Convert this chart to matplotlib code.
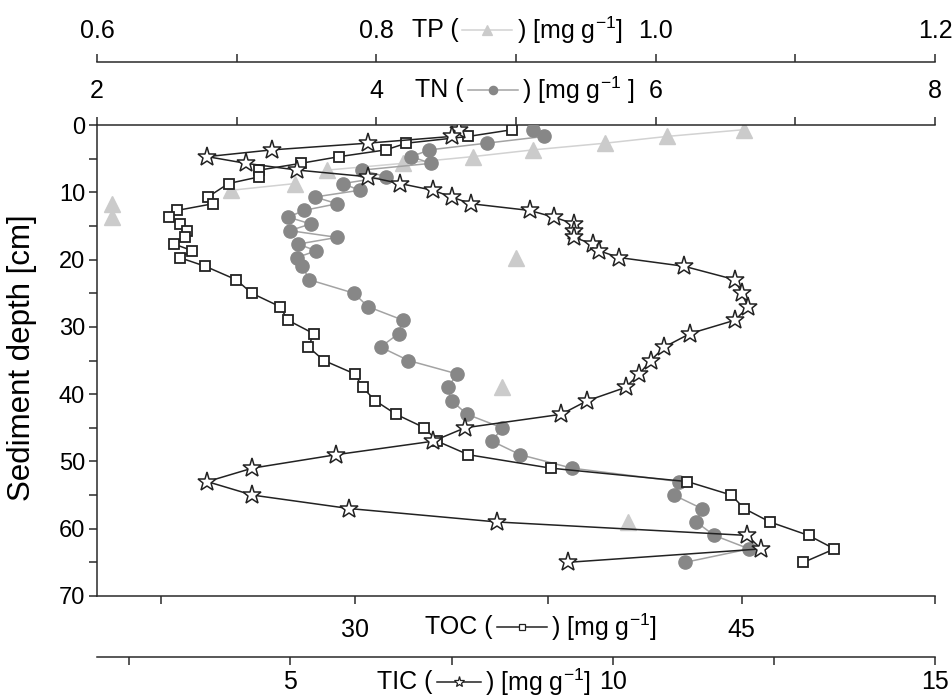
import numpy as np
import matplotlib
matplotlib.use("Agg")
import matplotlib.pyplot as plt
from matplotlib.offsetbox import TextArea, DrawingArea, HPacker, AnnotationBbox
from matplotlib.lines import Line2D

plt.rcParams['font.family'] = ['Liberation Sans', 'DejaVu Sans']
plt.rcParams['mathtext.fontset'] = 'custom'
plt.rcParams['mathtext.rm'] = 'Liberation Sans'
plt.rcParams['mathtext.it'] = 'Liberation Sans:italic'
plt.rcParams['mathtext.bf'] = 'Liberation Sans:bold'

# ---------------- data ----------------
depth = [0.7, 1.7, 2.7, 3.7, 4.7, 5.7, 6.7, 7.7, 8.7, 9.7,
         10.7, 11.7, 12.7, 13.7, 14.7, 15.7, 16.7, 17.7, 18.7, 19.7,
         21, 23, 25, 27, 29, 31, 33, 35, 37, 39, 41, 43, 45, 47, 49,
         51, 53, 55, 57, 59, 61, 63, 65]

toc = [36.1, 34.4, 32.0, 31.2, 29.4, 27.9, 26.3, 26.3, 25.1, np.nan,
       24.3, 24.5, 23.1, 22.8, 23.2, 23.5, 23.4, 23.0, 23.7, 23.2,
       24.2, 25.4, 26.0, 27.1, 27.4, 28.4, 28.2, 28.8, 30.0, 30.3, 30.8, 31.6,
       32.7, 33.2, 34.4, 37.6, 42.9, 44.6, 45.1, 46.1, 47.6, 48.6, 47.4]

tic = [7.61, 7.50, 6.20, 4.71, 3.71, 4.31, 5.11, 6.21, 6.70, 7.21,
       7.50, 7.80, 8.71, 9.09, 9.40, 9.40, 9.40, 9.69, 9.79, 10.10,
       11.11, 11.90, 12.00, 12.10, 11.90, 11.20, 10.80, 10.59, 10.41, 10.20,
       9.60, 9.20, 7.71, 7.21, 5.71, 4.41, 3.71, 4.41, 5.91, 8.21, 12.09, 12.30, 9.30]

tn = [5.12, 5.20, 4.79, 4.38, 4.25, 4.39, 3.90, 4.07, 3.76, 3.88,
      3.56, 3.72, 3.48, 3.37, 3.53, 3.38, 3.72, 3.44, 3.57, 3.43,
      3.47, 3.52, 3.84, 3.94, 4.19, 4.16, 4.03, 4.23, 4.58, 4.51, 4.54, 4.65,
      4.90, 4.83, 5.03, 5.40, 6.17, 6.13, 6.33, 6.29, 6.42, 6.67, 6.21]

nan = np.nan
tp = [1.063, 1.008, 0.964, 0.912, 0.869, 0.819, 0.765, nan, 0.742, 0.696,
      nan, 0.6105, nan, 0.6105, nan, nan, nan, nan, nan, 0.900,
      nan, nan, nan, nan, nan, nan, nan, nan, nan, 0.890,
      nan, nan, nan, nan, nan, nan, nan, nan, nan, 0.980, nan, nan, nan]

depth_ticks = [0, 10, 20, 30, 40, 50, 60, 70]
tp_ticks = [0.6, 0.8, 1.0, 1.2]
tp_labels = ['0.6', '0.8', '1.0', '1.2']
tn_ticks = [2, 4, 6, 8]
toc_ticks = [30, 45]
tic_ticks = [5, 10, 15]

# ---------------- layout ----------------
W, H = 953, 700
L, R, T, B = 97, 935, 125, 596
PX = 72 / 100  # points per pixel
fig = plt.figure(figsize=(W / 100, H / 100), dpi=100)
ax = fig.add_axes([L / W, 1 - B / H, (R - L) / W, (B - T) / H])

spine_c = '#2a2a2a'
lw_sp = 1.1
tick_fs = 18
ytick_fs = 17
tlen = 5.5

ax_tn = ax.twiny()
ax_tp = ax.twiny()
ax_tic = ax.twiny()

for a in (ax, ax_tn, ax_tp, ax_tic):
    for s in a.spines.values():
        s.set_visible(False)
        s.set_linewidth(lw_sp)
        s.set_color(spine_c)
    a.patch.set_visible(False)

ax.spines['left'].set_visible(True)
ax.spines['bottom'].set_visible(True)
ax_tn.spines['top'].set_visible(True)
ax_tp.spines['top'].set_visible(True)
ax_tp.spines['top'].set_position(('outward', 63 * PX))
ax_tic.spines['bottom'].set_visible(True)
ax_tic.spines['bottom'].set_position(('outward', 61 * PX))
ax_tic.xaxis.set_ticks_position('bottom')
ax_tic.xaxis.set_label_position('bottom')

# y axis
ax.set_ylim(70, 0)
ax.set_yticks(depth_ticks)
ax.set_yticks([5, 15, 25, 35, 45, 55, 65], minor=True)
ax.tick_params(axis='y', which='both', direction='out', length=tlen, width=lw_sp,
               color=spine_c, labelsize=ytick_fs, pad=3)

# TOC bottom
ax.set_xlim(20, 52.5)
ax.set_xticks(toc_ticks)
ax.set_xticks([22.5, 37.5, 52.5], minor=True)
ax.tick_params(axis='x', which='both', direction='out', length=tlen, width=lw_sp,
               color=spine_c, labelsize=tick_fs, pad=10)

# TIC outer bottom
ax_tic.set_xlim(2, 15)
ax_tic.set_xticks(tic_ticks)
ax_tic.set_xticks([2.5, 7.5, 12.5], minor=True)
ax_tic.tick_params(axis='x', which='both', direction='out', length=tlen, width=lw_sp,
                   color=spine_c, labelsize=tick_fs, pad=4)

# TN top
ax_tn.set_xlim(2, 8)
ax_tn.set_xticks(tn_ticks)
ax_tn.set_xticks([3, 5, 7], minor=True)
ax_tn.tick_params(axis='x', which='both', direction='out', length=tlen, width=lw_sp,
                  color=spine_c, labelsize=tick_fs, pad=10)

# TP outer top
ax_tp.set_xlim(0.6, 1.2)
ax_tp.set_xticks(tp_ticks)
ax_tp.set_xticklabels(tp_labels)
ax_tp.set_xticks([0.7, 0.9, 1.1], minor=True)
ax_tp.tick_params(axis='x', which='both', direction='out', length=tlen, width=lw_sp,
                  color=spine_c, labelsize=tick_fs, pad=8)

# ---------------- series ----------------
d = np.array(depth, dtype=float)
tp_a = np.array(tp, dtype=float)
toc_a = np.array(toc, dtype=float)
m = ~np.isnan(toc_a)

tp_style = dict(color='#d2d2d2', lw=1.1, marker='^', ms=11, mfc='#cbcbcb', mec='#cbcbcb')
tn_style = dict(color='#a3a3a3', lw=1.1, marker='o', ms=9.5, mfc='#878787', mec='#878787')
toc_style = dict(color='#222222', lw=1.1, marker='s', ms=7.5, mfc='white', mec='#222222', mew=1.3)
tic_style = dict(color='#222222', lw=1.1, marker='*', ms=14, mfc='white', mec='#222222', mew=1.1)

ax_tp.plot(tp_a, d, zorder=2, **tp_style)
ax_tn.plot(tn, depth, zorder=3, **tn_style)
ax.plot(toc_a[m], d[m], zorder=4, **toc_style)
ax_tic.plot(tic, depth, zorder=5, **tic_style)

# draw order: TP, TN, TOC, TIC
ax.set_zorder(3)
ax_tp.set_zorder(1)
ax_tn.set_zorder(2)
ax_tic.set_zorder(4)

# ---------------- inline axis titles ----------------
def title_box(prefix, suffix, style, ms, w=40):
    tprops = dict(fontsize=tick_fs, color='black')
    da = DrawingArea(w, 14, 0, 0)
    st = dict(style)
    da.add_artist(Line2D([2, w - 2], [7, 7], color=st['color'], lw=st['lw']))
    da.add_artist(Line2D([w / 2], [7], linestyle='none', marker=st['marker'], ms=ms,
                         mfc=st['mfc'], mec=st['mec'], mew=min(st.get('mew', 1.0), 0.9)))
    return HPacker(children=[TextArea(prefix, textprops=tprops), da,
                             TextArea(suffix, textprops=tprops)],
                   align='center', pad=0, sep=1)

titles = [
    ('TP (', ') [mg g$^{-1}$]', tp_style, 7, 40, (517, H - 30)),
    ('TN (', ') [mg g$^{-1}$ ]', tn_style, 6, 40, (525, H - 90)),
    ('TOC (', ') [mg g$^{-1}$]', toc_style, 5, 40, (541, H - 627)),
    ('TIC (', ') [mg g$^{-1}$]', tic_style, 8, 36, (484, H - 682)),
]
for pre, suf, st, ms, w, xy in titles:
    box = title_box(pre, suf, st, ms, w)
    ab = AnnotationBbox(box, xy, xycoords='figure pixels', box_alignment=(0.5, 0.5),
                        frameon=False, pad=0)
    fig.add_artist(ab)

fig.text(22 / W, 1 - 358 / H, 'Sediment depth [cm]', rotation=90, ha='center', va='center',
         fontsize=22.5, color='black')

fig.savefig('out.png', dpi=100)
